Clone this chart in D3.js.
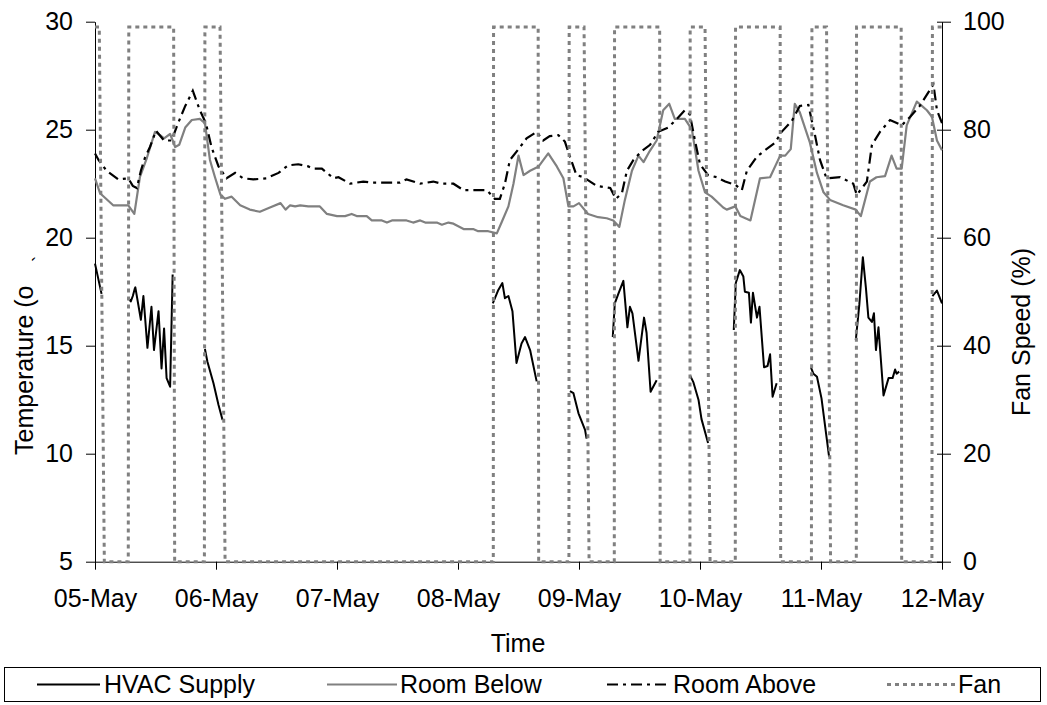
<!DOCTYPE html>
<html>
<head>
<meta charset="utf-8">
<script src="https://cdn.jsdelivr.net/npm/d3@7"></script>
<style>
  body { margin: 0; background: #fff; }
  svg text { font-family: "Liberation Sans", Arial, sans-serif; fill: #000; }
</style>
</head>
<body>
<div id="chart"></div>
<script>
// Data: [hours since 05-May 00:00, value]
var roomAbove = [[0,23.9],[0.7,23.6],[2.3,23.1],[4.6,22.7],[6.6,22.75],[7.5,22.4],[8.3,22.3],[9.1,23.1],[9.9,23.7],[10.9,24.2],[12.1,24.95],[13.7,24.5],[15.2,24.5],[16.3,25.2],[17.9,26.1],[19.4,26.8],[20.8,25.9],[22,25.3],[23.1,24.2],[24.5,23.3],[26.1,22.75],[27.8,23.0],[29.4,22.75],[31.4,22.7],[34,22.75],[36.4,23.0],[38.3,23.35],[40.3,23.4],[42.3,23.3],[43.3,23.2],[45,23.2],[47.3,22.75],[48.3,22.8],[50.6,22.5],[53.2,22.6],[54.9,22.55],[57.9,22.55],[60.5,22.55],[61.8,22.7],[64.5,22.5],[67.1,22.6],[68.8,22.5],[71.1,22.5],[73.1,22.2],[75,22.2],[77.7,22.2],[79.3,21.8],[80.3,21.8],[81.3,22.5],[82.3,23.6],[84,24.1],[85.6,24.6],[87.6,24.9],[88.9,24.5],[90.2,24.7],[91.9,24.75],[93.2,24.45],[94.2,23.75],[95.5,22.9],[96.9,22.8],[99.5,22.4],[102.2,22.3],[103.3,21.8],[104.5,22.05],[105.5,23.1],[106.8,23.6],[108.4,24.0],[110.1,24.3],[111.7,24.9],[113.7,25.1],[115.4,25.5],[117,25.9],[118,25.7],[119,24.5],[120,23.4],[121.6,22.9],[123.3,22.8],[125,22.6],[127,22.45],[128.3,22.2],[129.3,23.1],[131.3,23.75],[132.9,24.05],[134.9,24.4],[136.2,24.9],[138.2,25.4],[139.8,26.1],[141.5,26.15],[142.8,24.75],[143.8,23.6],[145.1,22.75],[147.8,22.8],[150.4,22.5],[151.1,21.98],[153.1,22.6],[154.1,24.3],[155.7,24.9],[157.7,25.45],[160,25.2],[161.7,25.6],[163.6,26.1],[166.3,27.1],[167,25.9],[168,25.3]];

var roomBelow = [[0,22.75],[1,22.06],[3.6,21.5],[6.6,21.5],[7.8,21.1],[8.9,22.8],[10.3,23.7],[11.9,24.9],[12.9,24.75],[13.7,24.6],[14.9,24.8],[15.9,24.2],[16.7,24.3],[17.9,25.1],[19.2,25.45],[20.8,25.5],[21.8,25.3],[22.8,23.6],[23.8,22.8],[24.9,21.98],[25.8,21.8],[27.1,21.9],[28.8,21.5],[30.7,21.3],[32.7,21.2],[34.7,21.4],[36.8,21.6],[37.8,21.3],[38.7,21.5],[39.7,21.45],[40.7,21.5],[42.3,21.45],[44.6,21.45],[46,21.1],[48,21.0],[49.6,21.0],[50.9,21.1],[51.9,21.0],[53.9,21.0],[54.9,20.8],[56.9,20.8],[57.9,20.7],[58.9,20.8],[61.8,20.8],[63.1,20.7],[64.5,20.8],[65.5,20.7],[67.8,20.7],[68.8,20.6],[70.1,20.7],[71.1,20.65],[73.1,20.4],[75,20.4],[76,20.3],[78,20.3],[79.7,20.2],[80.7,20.74],[82,21.45],[83,22.5],[84,23.8],[85,22.9],[86.3,23.1],[88,23.3],[89.9,23.9],[91.6,23.3],[92.9,22.75],[93.9,21.45],[94.9,21.45],[96,21.6],[97.8,21.1],[99.8,20.95],[101.5,20.9],[102.8,20.8],[104,20.5],[105.1,21.75],[106.5,23.1],[107.8,23.8],[108.8,23.5],[110,24.0],[111.4,24.5],[112.7,25.9],[113.9,26.2],[115,25.5],[117,25.5],[118.4,25.0],[119.7,23.1],[121,22.1],[122.3,21.9],[124.6,21.4],[125.3,21.3],[127,21.45],[128,21.0],[130,20.8],[131.9,22.75],[133.9,22.8],[135.9,23.8],[136.9,23.8],[138,24.1],[138.8,26.2],[139.8,25.8],[141.8,24.4],[143.2,23.0],[144.5,22.1],[145.8,21.75],[148.4,21.5],[150.9,21.3],[151.9,21.0],[153.7,22.6],[155,22.8],[156.7,22.85],[158,23.8],[159,23.2],[160,23.2],[161,25.2],[163,26.3],[164,26.1],[165,25.9],[166,25.6],[167,24.5],[168,24.05]];

// null = no supply reading while the fan is off
var hvacSupply = [[0,18.8],[1.3,17.4],[1.5,null],[6.6,17.2],[7.1,17.05],[7.5,17.3],[7.9,17.65],[8.0,17.7],[9.1,16.2],[9.6,17.3],[10.4,14.9],[11.2,16.8],[11.7,14.8],[12.6,16.6],[13.2,13.95],[13.7,15.8],[14.2,13.5],[14.9,13.1],[15.4,18.3],[16,null],[21.8,14.85],[22.3,14.26],[23.5,13.26],[24.5,12.25],[25.3,11.56],[26,null],[78.9,16.96],[80,17.58],[80.8,17.9],[81.3,17.2],[82,17.3],[82.8,16.6],[83.6,14.2],[84.6,15.1],[85.3,15.4],[86.3,14.8],[87.6,13.35],[88,null],[94.2,12.9],[94.9,12.8],[95.9,11.87],[97.2,11.1],[97.5,10.7],[98,null],[102.7,15.4],[103.1,16.96],[103.8,17.4],[104.8,18.0],[105.6,15.85],[106.1,16.8],[106.6,16.5],[107.8,14.3],[108.9,16.3],[109.4,15.6],[110.2,12.87],[111.4,13.4],[112,null],[118,13.64],[118.7,13.3],[119.7,12.5],[120.3,11.6],[121.6,10.5],[122,null],[126.7,15.73],[127.1,17.9],[127.9,18.5],[128.6,18.2],[128.9,17.5],[129.7,17.45],[130.1,16.07],[130.5,17.45],[131.3,16.3],[131.8,16.8],[132.7,14.0],[133.4,14.06],[133.9,14.6],[134.4,12.64],[135.2,13.26],[136,null],[142,14.0],[142.5,13.7],[143.2,13.56],[144.1,12.56],[145.6,9.86],[146,null],[150.9,15.26],[151.6,16.9],[152.3,19.1],[152.9,17.7],[153.4,16.3],[154.1,16.1],[154.5,16.5],[154.9,14.8],[155.4,15.85],[156.4,12.7],[157.4,13.5],[158.2,13.5],[158.7,13.9],[159,13.7],[159.5,13.8],[160,null],[166.1,17.3],[167,17.55],[168,16.96]];

var fanSpeed = [[0,99],[0.85,99],[1.85,0],[6.6,0],[6.7,99],[15.6,99],[15.8,0],[21.7,0],[21.8,99],[24.8,99],[25.8,0],[79,0],[79.05,99],[87.9,99],[88,0],[94,0],[94.05,99],[97,99],[98,0],[103,0],[103.05,99],[112,99],[112.1,0],[118,0],[118.05,99],[121,99],[122,0],[127,0],[127.05,99],[135.9,99],[136,0],[142.1,0],[142.2,99],[145.1,99],[145.9,0],[151,0],[151.05,99],[159.9,99],[160,0],[166,0],[166.1,99],[168,99]];

var tempTicks = [5, 10, 15, 20, 25, 30];
var fanTicks = [0, 20, 40, 60, 80, 100];

// Set up the chart
var svgWidth = 1047;
var svgHeight = 705;
var plotLeft = 95, plotRight = 942, plotTop = 21.7, plotBottom = 561.7;

var startDate = new Date(2006, 4, 5);
var endDate = new Date(2006, 4, 12);
function toDate(h) { return new Date(startDate.getTime() + h * 3600000); }

var svg = d3.select("#chart")
    .append("svg")
    .attr("width", svgWidth)
    .attr("height", svgHeight);

var xScale = d3.scaleTime().domain([startDate, endDate]).range([plotLeft, plotRight]);
var yTemp = d3.scaleLinear().domain([5, 30]).range([plotBottom, plotTop]);
var yFan = d3.scaleLinear().domain([0, 100]).range([plotBottom, plotTop]);

// Axes
var bottomAxis = d3.axisBottom(xScale)
    .ticks(d3.timeDay.every(1))
    .tickFormat(d3.timeFormat("%d-%b"))
    .tickSizeInner(8).tickSizeOuter(0).tickPadding(20);
var leftAxis = d3.axisLeft(yTemp).tickValues(tempTicks)
    .tickSizeInner(9).tickSizeOuter(0).tickPadding(13);
var rightAxis = d3.axisRight(yFan).tickValues(fanTicks)
    .tickSizeInner(9).tickSizeOuter(0).tickPadding(12);

function styleAxis(g) {
    g.selectAll("text").style("font-size", "25px").style("font-family", "'Liberation Sans', Arial, sans-serif").attr("fill", "#000");
    g.selectAll("line, path").attr("stroke", "#000").attr("stroke-width", 1);
}

svg.append("g").attr("transform", "translate(0," + plotBottom + ")").call(bottomAxis).call(styleAxis);
svg.append("g").attr("transform", "translate(" + plotLeft + ",0)").call(leftAxis).call(styleAxis);
var rightG = svg.append("g").attr("transform", "translate(" + plotRight + ",0)").call(rightAxis).call(styleAxis);
rightG.selectAll(".tick line").attr("x1", -5);

// Lines
var tempLine = d3.line()
    .defined(function(d) { return d[1] !== null; })
    .x(function(d) { return xScale(toDate(d[0])); })
    .y(function(d) { return yTemp(d[1]); });
var fanLine = d3.line()
    .x(function(d) { return xScale(toDate(d[0])); })
    .y(function(d) { return yFan(d[1]); });

svg.append("path").datum(hvacSupply)
    .attr("d", tempLine).attr("fill", "none")
    .attr("stroke", "#000").attr("stroke-width", 2).attr("stroke-linejoin", "round");
svg.append("path").datum(roomBelow)
    .attr("d", tempLine).attr("fill", "none")
    .attr("stroke", "#808080").attr("stroke-width", 2.2).attr("stroke-linejoin", "round");
svg.append("path").datum(roomAbove)
    .attr("d", tempLine).attr("fill", "none")
    .attr("stroke", "#000").attr("stroke-width", 2.2)
    .attr("stroke-dasharray", "11,5,3,5");
svg.append("path").datum(fanSpeed)
    .attr("d", fanLine).attr("fill", "none")
    .attr("stroke", "#808080").attr("stroke-width", 3)
    .attr("stroke-dasharray", "4,4");

// Axis titles
svg.append("text")
    .attr("x", (plotLeft + plotRight) / 2 - 0.5)
    .attr("y", 652)
    .attr("text-anchor", "middle")
    .style("font-size", "25px")
    .text("Time");

svg.append("text")
    .attr("transform", "translate(33,455) rotate(-90)")
    .attr("text-anchor", "start")
    .style("font-size", "25px")
    .text("Temperature (o");
// stray stroke left of the clipped title
svg.append("text")
    .attr("transform", "translate(46,262) rotate(-90)")
    .style("font-size", "18px")
    .text("`");

svg.append("text")
    .attr("transform", "translate(1030,332) rotate(-90)")
    .attr("text-anchor", "middle")
    .style("font-size", "25px")
    .text("Fan Speed (%)");

// Legend
var legendItems = [
    { label: "HVAC Supply", color: "#000", dash: null, x1: 37, x2: 100, tx: 104 },
    { label: "Room Below", color: "#808080", dash: null, x1: 327, x2: 397, tx: 400 },
    { label: "Room Above", color: "#000", dash: "11,5,3,5", x1: 607, x2: 670, tx: 673 },
    { label: "Fan", color: "#808080", dash: "4,4", x1: 887, x2: 955, tx: 958 }
];
var legend = svg.append("g");
legend.append("rect")
    .attr("x", 4.5).attr("y", 667.5).attr("width", 1036).attr("height", 34)
    .attr("fill", "#fff").attr("stroke", "#000").attr("stroke-width", 1);
legendItems.forEach(function(item) {
    legend.append("line")
        .attr("x1", item.x1).attr("x2", item.x2)
        .attr("y1", 684.5).attr("y2", 684.5)
        .attr("stroke", item.color)
        .attr("stroke-width", item.dash === "4,4" ? 3 : 2)
        .attr("stroke-dasharray", item.dash);
    legend.append("text")
        .attr("x", item.tx).attr("y", 693)
        .style("font-size", "25px")
        .text(item.label);
});
</script>
</body>
</html>
